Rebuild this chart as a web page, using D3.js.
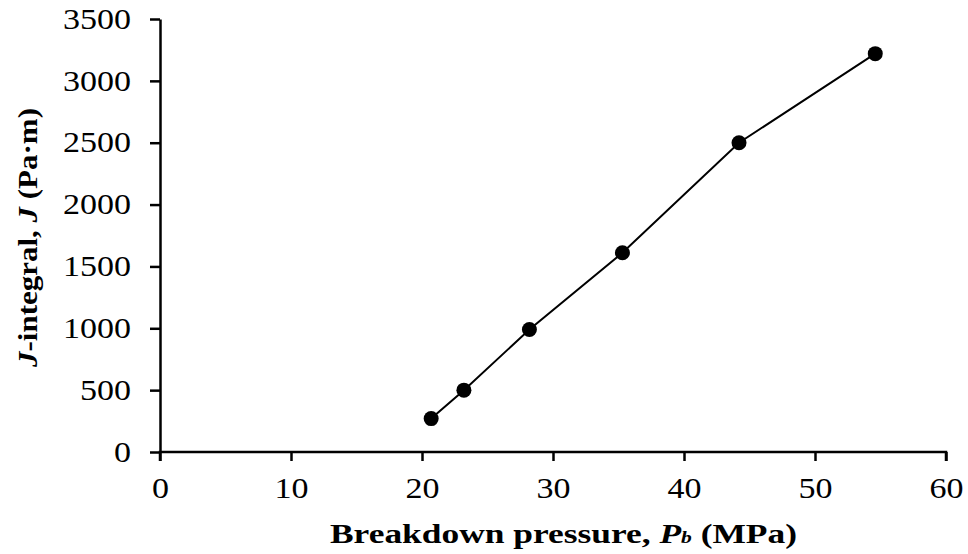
<!DOCTYPE html>
<html>
<head>
<meta charset="utf-8">
<script src="https://cdn.jsdelivr.net/npm/d3@7"></script>
<style>
  body { margin: 0; background: #fff; }
  svg text { font-family: "Liberation Serif", "Times New Roman", serif; }
</style>
</head>
<body>
<svg id="chart" width="968" height="554"></svg>
<script>
// breakdown pressure (MPa) and J-integral (Pa·m)
const pressure = [20.7, 23.2, 28.2, 35.3, 44.2, 54.6];
const jIntegral = [270, 500, 990, 1610, 2500, 3220];
const xTicks = [0, 10, 20, 30, 40, 50, 60];
const yTicks = [0, 500, 1000, 1500, 2000, 2500, 3000, 3500];

const svg = d3.select('#chart');
const plotLeft = 160, plotRight = 946, plotTop = 19, plotBottom = 452;

const x = d3.scaleLinear().domain([0, 60]).range([plotLeft, plotRight]);
const y = d3.scaleLinear().domain([0, 3500]).range([plotBottom, plotTop]);

// x axis
const xAxis = svg.append('g')
  .attr('transform', `translate(0, ${plotBottom})`)
  .call(d3.axisBottom(x).tickValues(xTicks).tickFormat(d3.format('d'))
    .tickSizeInner(9).tickSizeOuter(9).tickPadding(16));
// y axis
const yAxis = svg.append('g')
  .attr('transform', `translate(${plotLeft}, 0)`)
  .call(d3.axisLeft(y).tickValues(yTicks).tickFormat(d3.format('d'))
    .tickSizeInner(10).tickSizeOuter(0).tickPadding(19));

[xAxis, yAxis].forEach(g => {
  g.attr('font-family', null).attr('font-size', null);
  g.select('.domain').attr('stroke', '#000').attr('stroke-width', 2.5);
  g.selectAll('.tick line').attr('stroke', '#000').attr('stroke-width', 2.5);
  g.selectAll('.tick text').attr('fill', '#000').style('font-size', '29px')
    .attr('textLength', d => String(d).length * 17)
    .attr('lengthAdjust', 'spacingAndGlyphs');
});
xAxis.select('.domain').attr('d', `M${plotLeft},9V0H${plotRight}V9`);

// line and markers
const pts = pressure.map((p, i) => [p, jIntegral[i]]);
svg.append('path')
  .datum(pts)
  .attr('fill', 'none')
  .attr('stroke', '#000')
  .attr('stroke-width', 2)
  .attr('d', d3.line().x(d => x(d[0])).y(d => y(d[1])));

svg.selectAll('circle.pt')
  .data(pts)
  .enter()
  .append('circle')
  .attr('class', 'pt')
  .attr('cx', d => x(d[0]))
  .attr('cy', d => y(d[1]))
  .attr('r', 7.5)
  .attr('fill', '#000');

// axis titles
const xt = svg.append('text')
  .attr('x', 330).attr('y', 543)
  .attr('textLength', 467).attr('lengthAdjust', 'spacingAndGlyphs')
  .style('font-size', '28px').style('font-weight', 'bold');
xt.append('tspan').text('Breakdown pressure, ');
xt.append('tspan').style('font-style', 'italic').text('P');
xt.append('tspan').style('font-style', 'italic').style('font-size', '17px').text('b');
xt.append('tspan').text(' (MPa)');

const yt = svg.append('text')
  .attr('transform', 'translate(37, 367) rotate(-90)')
  .attr('textLength', 259).attr('lengthAdjust', 'spacingAndGlyphs')
  .style('font-size', '28px').style('font-weight', 'bold');
yt.append('tspan').style('font-style', 'italic').text('J');
yt.append('tspan').text('-integral, ');
yt.append('tspan').style('font-style', 'italic').text('J');
yt.append('tspan').text(' (Pa·m)');
</script>
</body>
</html>
